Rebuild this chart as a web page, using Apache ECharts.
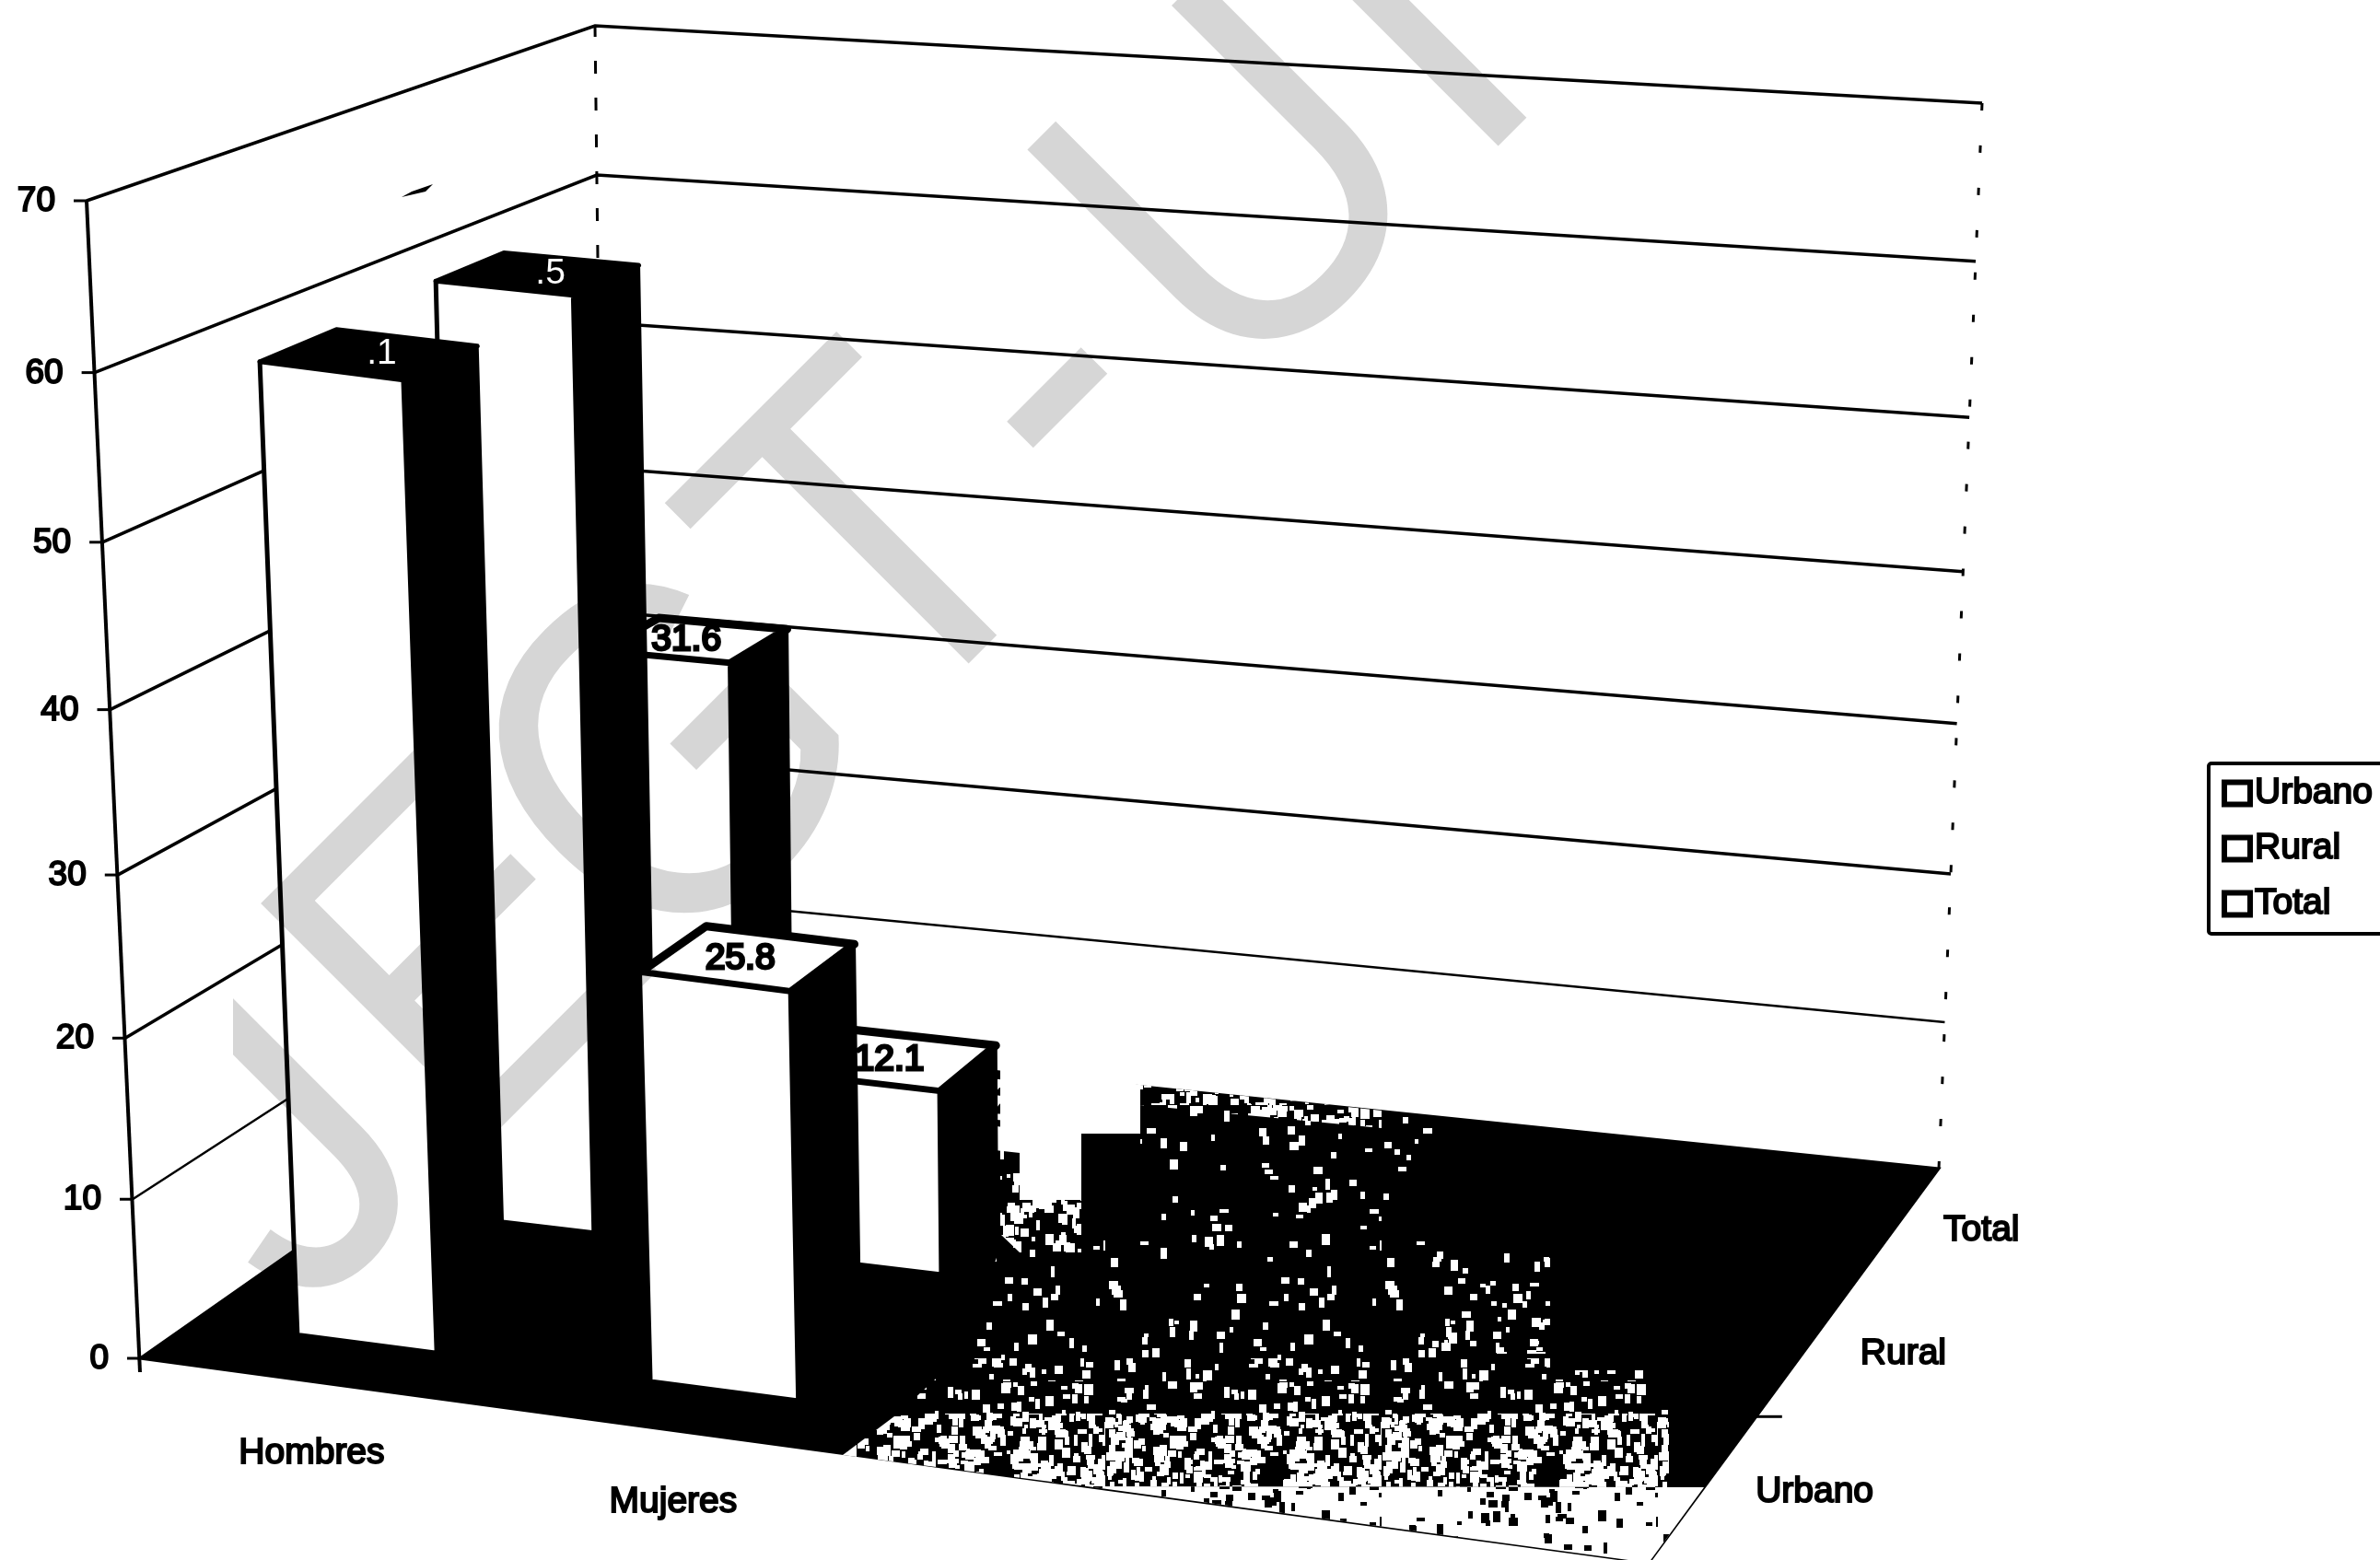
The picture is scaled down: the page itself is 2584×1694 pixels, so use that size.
<!DOCTYPE html>
<html><head><meta charset="utf-8">
<style>html,body{margin:0;background:#fff}#c{width:2584px;height:1694px}
/* the watermark lives on its own ECharts layer: it greys white paper but leaves black ink black */
canvas[data-zr-dom-id="zr_5"]{mix-blend-mode:multiply}</style>
<script src="https://cdn.jsdelivr.net/npm/echarts@6/dist/echarts.min.js"></script>
</head><body><div id="c"></div>
<script>
// ---- chart values ----
const categories = ['Hombres', 'Mujeres', '', ''];
const rows = ['Urbano', 'Rural', 'Total'];
const urbano = [60.1, 25.8];
const rural = [60.5, 12.1];
const total = [31.6, 2.0];
const yTicks = [0, 10, 20, 30, 40, 50, 60, 70];
const darkTopRule = 50; // the scan turned the tops of the tall bars solid black

// ---- scene: where the box of the 3D plot sits on the page ----
const W = 2584, H = 1694, TEXT = '"Liberation Sans", Arial, sans-serif';
const floorQuad = [[152,1475],[1790,1697],[2105,1269],[659,1120]];
const roofQuad = [[94,218],[1845,355],[2152,112],[646,28]];
function homography(q){
  const [p0,p1,p2,p3]=q;
  const dx1=p1[0]-p2[0],dx2=p3[0]-p2[0],sx=p0[0]-p1[0]+p2[0]-p3[0];
  const dy1=p1[1]-p2[1],dy2=p3[1]-p2[1],sy=p0[1]-p1[1]+p2[1]-p3[1];
  const den=dx1*dy2-dx2*dy1, g=(sx*dy2-dx2*sy)/den, h=(dx1*sy-sx*dy1)/den;
  const a=p1[0]-p0[0]+g*p1[0], b=p3[0]-p0[0]+h*p3[0], d=p1[1]-p0[1]+g*p1[1], e=p3[1]-p0[1]+h*p3[1];
  return (u,z)=>{const w=g*u+h*z+1;return [(a*u+b*z+p0[0])/w,(d*u+e*z+p0[1])/w];};
}
const floorH=homography(floorQuad), roofH=homography(roofQuad);
const VP=0.956, FRONT_RIGHT_SQUEEZE=0.07; // vertical perspective of the value axis
// u,z in 0..1 along category and depth, t = share of the value axis
function project(u,z,t){
  const a=floorH(u,z),b=roofH(u,z),s=t*VP/(1+(VP-1)*t)*(1-FRONT_RIGHT_SQUEEZE*u*(1-z));
  return [a[0]+(b[0]-a[0])*s,a[1]+(b[1]-a[1])*s];
}
// read u and t from the library's hidden axes
function axisPos(api,i,v){const c=api.coord([i,v]);return {u:c[0]/W*1.02+0.002,t:1-c[1]/H};}

const BAR=0.41, INK='#000';
const textStyle=(o)=>Object.assign({font:'39px '+TEXT,fill:INK,stroke:INK,lineWidth:2},o);

function barItem(rowIdx){
  return function(params,api){
    const i=api.value(0), v=api.value(1), halfU=BAR/2/categories.length;
    const c=axisPos(api,i,v), t=c.t, u=c.u;
    const z0=(rowIdx+0.3)/3, z1=(rowIdx+0.72)/3, u0=u-halfU, u1=u+halfU;
    const A=project(u0,z0,0),B=project(u1,z0,0),C=project(u1,z0,t),D=project(u0,z0,t);
    const E=project(u1,z1,t),F=project(u1,z1,0),G=project(u0,z1,t);
    const dark=v>darkTopRule, lab=project((u0+u1)/2,(z0+z1)/2,t);
    const parts=String(v.toFixed(1)).split('.');
    return {type:'group',children:[
      {type:'polygon',shape:{points:[C,E,F,B]},style:{fill:INK,stroke:INK,lineWidth:3}},
      {type:'polygon',shape:{points:[D,C,E,G]},style:{fill:dark?INK:'#fff',stroke:INK,lineWidth:dark?5:9,lineJoin:'round'}},
      {type:'polygon',shape:{points:[A,B,C,D]},style:{fill:'#fff',stroke:INK,lineWidth:5,lineJoin:'round'}},
      {type:'text',style:{x:lab[0]-8,y:lab[1],align:'center',verticalAlign:'middle',text:'{a|'+parts[0]+'}{b|.'+parts[1]+'}',
        rich:{a:{font:'39px '+TEXT,fill:INK,stroke:INK,lineWidth:3},b:{font:'39px '+TEXT,fill:dark?'#fff':INK,stroke:dark?'#fff':INK,lineWidth:dark?0:3}}}}
    ]};
  };
}
function barData(vals,r){return vals.map((v,i)=>[i,v,r]);}
function barSeries(name,vals,r){
  return {type:'custom',name,coordinateSystem:'cartesian2d',silent:true,z:3+(2-r),clip:false,
    itemStyle:{color:'#fff',borderColor:INK,borderWidth:4},
    encode:{x:0,y:1},data:barData(vals,r),renderItem:barItem(r),animation:false};
}
// walls, floor and gridlines
const wallSeries={type:'custom',silent:true,z:1,clip:false,animation:false,coordinateSystem:'cartesian2d',
  encode:{x:0,y:1},data:yTicks.map(v=>[0,v]),
  renderItem(params,api){
    const t=1-api.coord([0,api.value(1)])[1]/H, kids=[];
    if(params.dataIndex===0){
      kids.push({type:'polygon',shape:{points:floorQuad},style:{fill:INK,stroke:INK,lineWidth:3}});
      kids.push({type:'line',shape:{x1:94,y1:218,x2:152,y2:1490},style:{stroke:INK,lineWidth:4}});
      const bl0=project(0,1,0),bl1=project(0,1,1),br0=project(1,1,0),br1=project(1,1,1);
      kids.push({type:'line',shape:{x1:bl0[0],y1:bl0[1],x2:bl1[0],y2:bl1[1]},style:{stroke:INK,lineWidth:3,lineDash:[14,26]}});
      kids.push({type:'line',shape:{x1:br0[0],y1:br0[1],x2:br1[0],y2:br1[1]},style:{stroke:INK,lineWidth:3,lineDash:[8,38]}});
      const p=floorH(1,1/3);kids.push({type:'line',shape:{x1:p[0],y1:p[1],x2:p[0]+28,y2:p[1]},style:{stroke:INK,lineWidth:3}});
    }else{
      const a=project(0,0,t),b=project(0,1,t),c=project(1,1,t);
      kids.push({type:'polyline',shape:{points:[a,b,c]},style:{fill:'none',stroke:INK,lineWidth:t<0.2?2.5:3.5}});
    }
    const e=project(0,0,t);
    kids.push({type:'line',shape:{x1:e[0]-14,y1:e[1],x2:e[0],y2:e[1]},style:{stroke:INK,lineWidth:3}});
    kids.push({type:'text',style:textStyle({x:e[0]-34,y:e[1]+1,text:String(api.value(1)),align:'right',verticalAlign:'middle',font:'37px '+TEXT})});
    return {type:'group',children:kids};
  }};
const catLabels={type:'custom',silent:true,z:2,clip:false,animation:false,coordinateSystem:'cartesian2d',encode:{x:0,y:1},
  data:categories.map((c,i)=>[i,0]),
  renderItem(params,api){
    const n=categories[api.value(0)]; if(!n) return null;
    const c=axisPos(api,api.value(0),0), p=project(c.u,0,0);
    return {type:'text',style:textStyle({x:p[0]-4,y:p[1]+77,text:n,align:'center',verticalAlign:'middle'})};
  }};
const rowLabels={type:'custom',silent:true,z:2,clip:false,animation:false,coordinateSystem:'cartesian2d',encode:{x:0,y:1},
  data:rows.map((r,i)=>[0,0,i]),
  renderItem(params,api){
    const r=api.value(2), p=floorH(1,(r+0.5)/3);
    return {type:'text',style:textStyle({x:p[0]+92+(2-r)*14,y:p[1]+5,text:rows[r],align:'center',verticalAlign:'middle'})};
  }};

// ---- the scanner's halftone over the floor (a texture, not chart data) ----
function speckTile(coverage,ink){
  const S=300,c=document.createElement('canvas');c.width=c.height=S;const x=c.getContext('2d');
  x.fillStyle=ink;let s=12345;const next=()=>{s=(s*1103515245+12345)&0x7fffffff;return s/0x7fffffff;};
  const n=Math.round(coverage*S*S/36);
  for(let k=0;k<n;k++){const w=3+next()*7,h=3+next()*9;x.fillRect(Math.floor(next()*S),Math.floor(next()*S),Math.ceil(w),Math.ceil(h));}
  return {image:c,repeat:'repeat'};
}
const sparse=speckTile(0.05,'#fff'), medium=speckTile(0.13,'#fff'), thick=speckTile(0.3,'#fff'), dense=speckTile(0.5,'#fff'), lightBlack=speckTile(0.1,'#000');
const poly=(points,fill,z)=>({type:'polygon',silent:true,z:z||10,shape:{points},style:{fill}});
const scanPatches=[
  poly([[1238,1178],[1555,1212],[1555,1345],[1238,1345]],sparse),
  poly([[1238,1178],[1500,1206],[1500,1225],[1238,1200]],thick),
  poly([[1090,1345],[1555,1345],[1555,1359],[1683,1359],[1683,1475],[1040,1475]],sparse),
  poly([[1555,1359],[1683,1359],[1683,1470],[1555,1470]],medium),
  poly([[1040,1475],[1683,1475],[1683,1488],[1812,1488],[1812,1535],[975,1535]],medium),
  poly([[975,1535],[1812,1535],[1812,1615],[1180,1614],[915,1580]],dense),
  poly([[1180,1614],[1850,1615],[1790,1697]],'#fff'),
  poly([[1180,1614],[1850,1615],[1790,1697]],lightBlack),
  poly([[1086,1150],[1238,1178],[1238,1231],[1174,1231],[1174,1303],[1107,1303],[1107,1240],[1086,1240]],'#fff'),
  poly([[1086,1240],[1107,1240],[1107,1303],[1174,1303],[1174,1360],[1107,1360],[1086,1340]],thick),
  poly([[447,208],[470,200],[462,208],[436,214]],INK)
];
// ---- watermark ----
const watermark=[['J',308,1255],['E',517,1049],['G',745,840],['T',966,604],['-',1144,428],['U',1360,220],['I',1541,42]];
const watermarkEls=watermark.map(m=>({type:'text',silent:true,zlevel:5,z:20,x:m[1],y:m[2],rotation:Math.PI/4,scaleX:0.9,
  style:{text:m[0],font:'518px '+TEXT,fill:'#d6d6d6',align:'center',verticalAlign:'middle'}}));
// the stamp's left edge was cut off straight
watermarkEls.push({type:'rect',silent:true,zlevel:5,z:30,shape:{x:0,y:900,width:253,height:794},style:{fill:'#fff'}});

const chart=echarts.init(document.getElementById('c'),null,{renderer:'canvas'});
chart.setOption({
  animation:false,backgroundColor:'#fff',
  grid:{left:0,right:0,top:0,bottom:0,containLabel:false},
  xAxis:{type:'category',data:categories,show:false},
  yAxis:{type:'value',min:0,max:70,interval:10,show:false},
  legend:{left:2398,top:829,orient:'vertical',selectedMode:false,borderColor:INK,borderWidth:4,borderRadius:3,
    padding:[12,40,12,14],itemWidth:28,itemHeight:24,itemGap:19,
    textStyle:{fontFamily:TEXT,fontSize:39,color:INK,textBorderColor:INK,textBorderWidth:2},
    data:rows.map(n=>({name:n,icon:'rect',itemStyle:{color:'#fff',borderColor:INK,borderWidth:6}}))},
  series:[wallSeries,catLabels,rowLabels,barSeries('Total',total,2),barSeries('Rural',rural,1),barSeries('Urbano',urbano,0)],
  graphic:{elements:scanPatches.concat(watermarkEls)}
});
</script></body></html>
